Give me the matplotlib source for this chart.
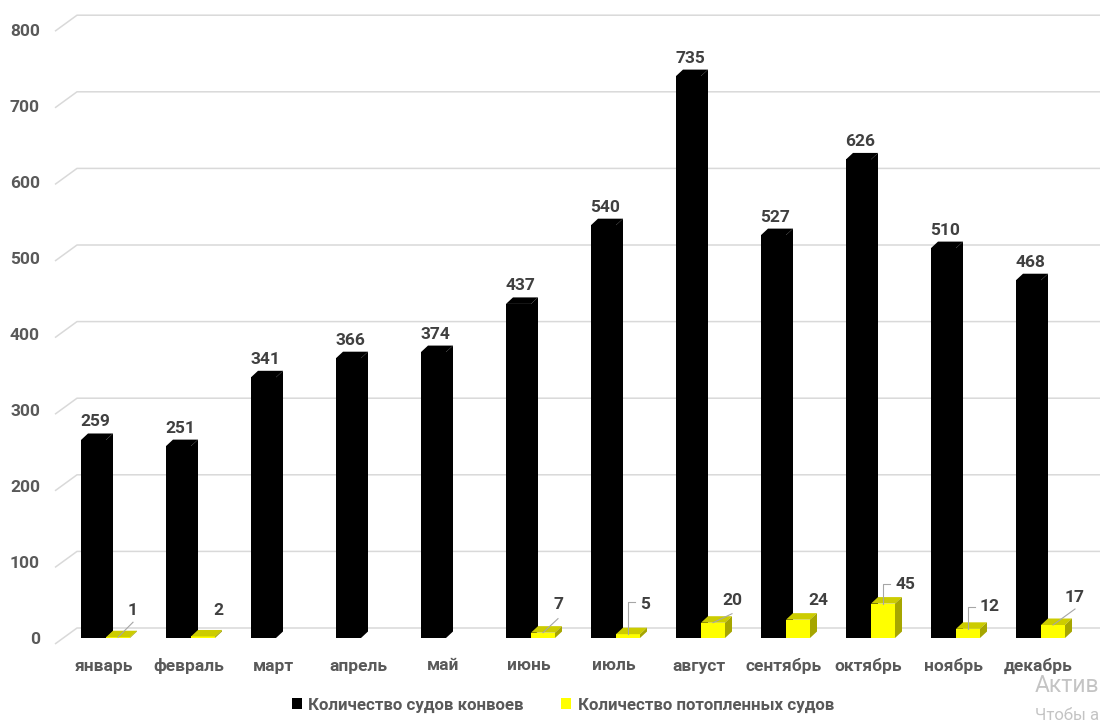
import numpy as np
import matplotlib
matplotlib.use('Agg')
import matplotlib.pyplot as plt
from matplotlib.patches import Polygon, Patch

# ---------------- data ----------------
months = ['январь', 'февраль', 'март', 'апрель', 'май', 'июнь', 'июль',
          'август', 'сентябрь', 'октябрь', 'ноябрь', 'декабрь']
convoy_ships = [259, 251, 341, 366, 374, 437, 540, 735, 527, 626, 510, 468]
sunk_ships = [1, 2, None, None, None, 7, 5, 20, 24, 45, 12, 17]
y_ticks = [0, 100, 200, 300, 400, 500, 600, 700, 800]
series_names = ['Количество судов конвоев', 'Количество потопленных судов']

# ---------------- style / layout ----------------
plt.rcParams['font.family'] = ['Roboto', 'DejaVu Sans']
FS = 12.5
C_LABEL = '#404040'
C_AXIS = '#595959'
C_GRID = '#d9d9d9'
C_YEL = '#ffff00'
C_YEL_TOP = '#cccc00'
C_YEL_SIDE = '#a6a600'

W, H = 1100, 722
PXC = 85.0      # pixels per category
X0 = 106.0      # pixel x of category 0 boundary
Y0 = 638.0      # pixel y of value 0 (front plane)
PXV = 0.7645    # pixels per value unit

fig = plt.figure(figsize=(W / 100, H / 100), dpi=100)
xl = ((55 - X0) / PXC, (W - X0) / PXC)
ax = fig.add_axes([55 / W, (H - Y0) / H, (W - 55) / W, 800 * PXV / H])
ax.set_xlim(xl)
ax.set_ylim(0, 800)
ax.axis('off')


def dxp(px):
    return px / PXC


def dyp(px):
    return px / PXV


def back_val(v):
    # value position of the back wall gridline (3D perspective lift)
    return (Y0 - (628 - 0.766 * v)) / PXV


# gridlines on back wall + left wall diagonal
x_wall = dxp(77 - X0)
for v in y_ticks:
    vb = back_val(v)
    ax.plot([xl[0], x_wall, xl[1]], [vb - dyp(16), vb, vb], color=C_GRID,
            lw=1.1, zorder=0, clip_on=False, solid_capstyle='butt')
    ax.text(dxp(40 - X0), (Y0 - (640 - 0.761 * v)) / PXV, f'{v}', ha='right',
            va='center', fontsize=FS, fontweight='bold', color=C_AXIS)

# category labels
for i, m in enumerate(months):
    ax.text(i - 0.03, dyp(Y0 - 666), m, ha='center', va='center',
            fontsize=FS, fontweight='bold', color=C_AXIS)

x = np.arange(len(months))
bw_b = dxp(25)
bw_y = dxp(24)
ddx = dxp(7)
ddy = dyp(6.5)

# black bars (front face through ax.bar, 3D faces as polygons)
ax.bar(x - bw_b, convoy_ships, width=bw_b, align='edge', color='black',
       zorder=2, linewidth=0)
for i, v in enumerate(convoy_ships):
    x1, x2 = i - bw_b, i
    ax.add_patch(Polygon([(x1, v), (x1 + ddx, v + ddy), (x2 + ddx, v + ddy), (x2, v)],
                         closed=True, facecolor='black', edgecolor='none', zorder=2))
    ax.add_patch(Polygon([(x2, 0), (x2, v), (x2 + ddx, v + ddy), (x2 + ddx, ddy)],
                         closed=True, facecolor='black', edgecolor='none', zorder=2))
    ax.annotate(f'{v}', xy=(i - bw_b / 2, v), xytext=(2 * 0.72, 18 * 0.72),
                textcoords='offset points', ha='center', va='center',
                fontsize=FS, fontweight='bold', color=C_LABEL)

# yellow bars
yx = [i for i, v in enumerate(sunk_ships) if v is not None]
yv = [sunk_ships[i] for i in yx]
ax.bar(yx, yv, width=bw_y, align='edge', color=C_YEL, zorder=3, linewidth=0)

# label offsets (px right, px up) from front-top centre and leader polylines
lab_off = {0: (15, 27), 1: (15, 26), 5: (15, 28), 6: (17, 30), 7: (19, 22),
           8: (20, 19), 9: (22, 19), 10: (22, 22), 11: (22, 28)}
leaders = {0: [(0, 0), (15, 15)], 5: [(0, 0), (15, 14)],
           6: [(0, 0), (0, 32), (7, 32)], 7: [(0, 0), (19, 9)],
           9: [(0, 0), (0, 20), (7, 20)], 10: [(0, 0), (0, 22), (7, 22)],
           11: [(0, 0), (22, 16)]}

for i, v in zip(yx, yv):
    x1, x2 = i, i + bw_y
    ax.add_patch(Polygon([(x1, v), (x1 + ddx, v + ddy), (x2 + ddx, v + ddy), (x2, v)],
                         closed=True, facecolor=C_YEL_TOP, edgecolor='none', zorder=3))
    ax.add_patch(Polygon([(x2, 0), (x2, v), (x2 + ddx, v + ddy), (x2 + ddx, ddy)],
                         closed=True, facecolor=C_YEL_SIDE, edgecolor='none', zorder=3))
    ax_c = i + bw_y / 2
    if i in leaders:
        pts = leaders[i]
        ax.plot([ax_c + dxp(p[0]) for p in pts], [v + dyp(p[1]) for p in pts],
                color='#a6a6a6', lw=0.8, zorder=4)
    ox, oy = lab_off[i]
    ax.text(ax_c + dxp(ox), v + dyp(oy), f'{v}', ha='center', va='center',
            fontsize=FS, fontweight='bold', color=C_LABEL, zorder=5)

# legend
handles = [Patch(facecolor='black', edgecolor='none'),
           Patch(facecolor=C_YEL, edgecolor='none')]
leg = fig.legend(handles, series_names, loc='center',
                 bbox_to_anchor=(563 / W, 1 - 705 / H), ncol=2, frameon=False,
                 handlelength=0.6, handleheight=0.6, handletextpad=0.4,
                 columnspacing=2.2,
                 prop={'size': 12.2, 'weight': 'bold'})
for t in leg.get_texts():
    t.set_color(C_AXIS)

# OS watermark visible in the reference
fig.text(1035 / W, 1 - 686 / H, 'Актив', color='#c4c4c4', fontsize=16.5,
         va='center', ha='left')
fig.text(1035 / W, 1 - 715 / H, 'Чтобы а', color='#c4c4c4', fontsize=12,
         va='center', ha='left')

fig.savefig('out.png', dpi=100, facecolor='white')
